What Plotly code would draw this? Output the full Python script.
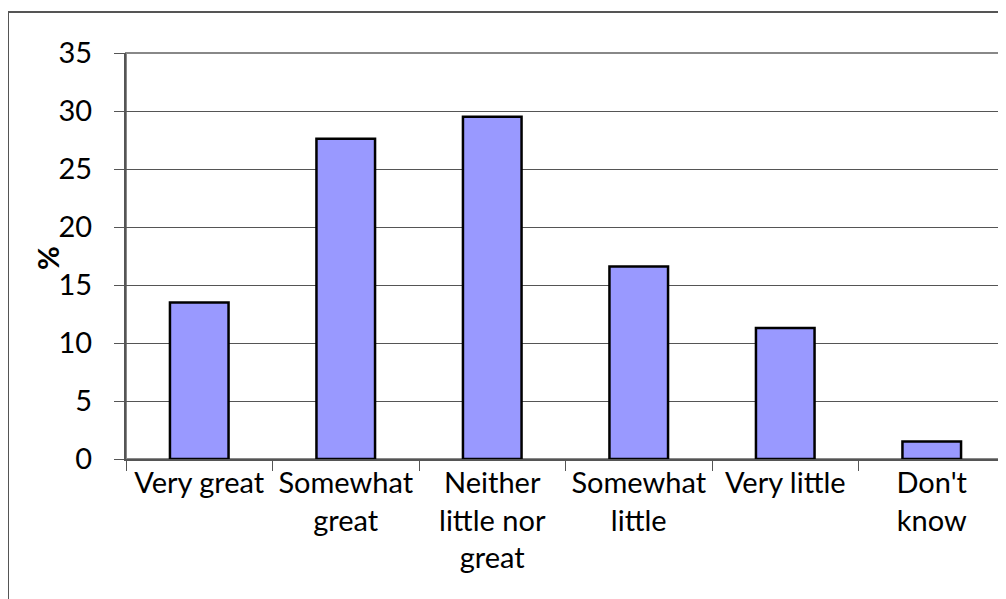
import plotly.graph_objects as go

categories = ["Very great", "Somewhat<br>great", "Neither<br>little nor<br>great",
              "Somewhat<br>little", "Very little", "Don't<br>know"]
values = [13.5, 27.6, 29.5, 16.6, 11.3, 1.5]
y_ticks = [0, 5, 10, 15, 20, 25, 30, 35]
y_title = "%"

FONT = "Lato, Calibri, Carlito, sans-serif"
FS = 29

fig = go.Figure()
fig.add_trace(go.Bar(
    x=categories, y=values,
    marker=dict(color="#9999FF", line=dict(color="#000000", width=2.5)),
    width=0.4,
))

# page body has an 8px offset; figure sized so plot area lands at x 126..1005, y 53..459
OFF = 8
W, H = 998, 591
L, R, T, B = 118, 1, 45, 140
pw, ph = W - L - R, H - T - B

def px_x(p):
    return (p - OFF - L) / pw

def px_y(p):
    return 1 - (p - OFF - T) / ph

fig.update_layout(
    width=W, height=H,
    margin=dict(l=L, r=R, t=T, b=B, autoexpand=False),
    paper_bgcolor="white", plot_bgcolor="white",
    showlegend=False,
    font=dict(family=FONT, size=FS, color="black"),
    bargap=0.6,
    xaxis=dict(
        type="category", tickson="boundaries", ticks="outside", ticklen=10,
        tickcolor="#555555", tickwidth=1,
        showline=True, linecolor="#555555", linewidth=2,
        showgrid=False, tickfont=dict(family=FONT, size=FS, color="black"),
        ticklabelstandoff=-3,
        automargin=False,
    ),
    yaxis=dict(
        range=[0, 35], tickvals=y_ticks, ticks="outside", ticklen=10,
        tickcolor="#555555", tickwidth=1,
        showline=True, linecolor="#555555", linewidth=2,
        showgrid=True, gridcolor="#555555", gridwidth=1,
        zeroline=False, ticklabelstandoff=16,
        tickfont=dict(family=FONT, size=FS, color="black"),
        automargin=False,
    ),
    annotations=[
        dict(text="<b>" + y_title + "</b>", xref="paper", yref="paper",
             x=px_x(47), y=px_y(258), textangle=-90, showarrow=False,
             xanchor="center", yanchor="middle",
             font=dict(family=FONT, size=FS, color="black")),
    ],
    shapes=[
        dict(type="rect", xref="paper", yref="paper", x0=0, x1=1, y0=0, y1=1,
             line=dict(color="#888888", width=2), layer="below"),
        dict(type="rect", xref="paper", yref="paper",
             x0=px_x(8), x1=px_x(1030), y0=px_y(640), y1=px_y(12),
             line=dict(color="#555555", width=2), fillcolor="rgba(0,0,0,0)"),
    ],
)

fig.write_html("out.html")
